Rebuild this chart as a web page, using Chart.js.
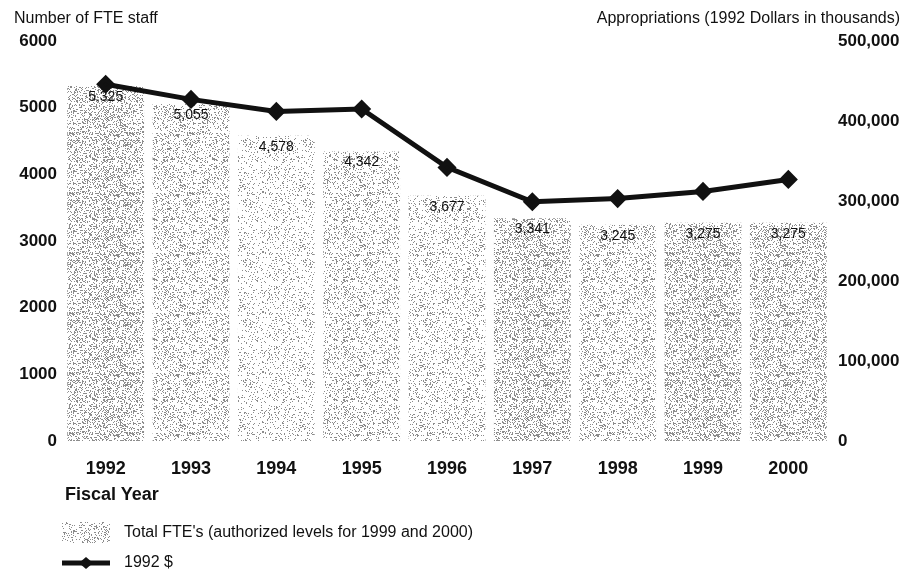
<!DOCTYPE html>
<html lang="en">
<head>
    <meta charset="UTF-8">
    <title>FTE staff and appropriations, 1992-2000</title>
    <script src="https://cdn.jsdelivr.net/npm/chart.js@4.4.1/dist/chart.umd.min.js"></script>
    <style>
        html, body { margin: 0; padding: 0; background: #fff; }
        #wrap { position: relative; width: 915px; height: 571px; }
        .ttl { position: absolute; top: 9px; font-family: "Liberation Sans", Arial, sans-serif; font-size: 16px; color: #111; white-space: nowrap; }
        #xtitle { position: absolute; left: 65px; top: 484px; font-family: "Liberation Sans", Arial, sans-serif; font-size: 18px; font-weight: bold; color: #111; }
        canvas { position: absolute; left: 0; top: 0; }
    </style>
</head>
<body>
<div id="wrap">
    <canvas id="chart" width="915" height="571"></canvas>
    <div class="ttl" style="left:14px;">Number of FTE staff</div>
    <div class="ttl" style="right:15px;">Appropriations (1992 Dollars in thousands)</div>
    <div id="xtitle">Fiscal Year</div>
</div>

<script>
    // data
    const years = ['1992', '1993', '1994', '1995', '1996', '1997', '1998', '1999', '2000'];
    const fteValues = [5325, 5055, 4578, 4342, 3677, 3341, 3245, 3275, 3275];
    const appropriations = [446000, 427000, 412000, 415000, 342000, 299000, 303000, 312000, 327000];
    const fteTicks = [0, 1000, 2000, 3000, 4000, 5000, 6000];
    const dollarTicks = [0, 100000, 200000, 300000, 400000, 500000];

    const FONT = '"Liberation Sans", Arial, sans-serif';
    const ctx = document.getElementById('chart').getContext('2d');

    // stippled fill like the photocopied bars
    function stipple(density) {
        const c = document.createElement('canvas');
        c.width = 60; c.height = 60;
        const g = c.getContext('2d');
        g.fillStyle = '#fff';
        g.fillRect(0, 0, 60, 60);
        g.fillStyle = '#8c8c8c';
        for (let y = 0; y < 60; y++) {
            for (let x = 0; x < 60; x++) {
                const h = Math.sin(x * 12.9898 + y * 78.233) * 43758.5453;
                if (h - Math.floor(h) < density) g.fillRect(x, y, 1, 1);
            }
        }
        return ctx.createPattern(c, 'repeat');
    }
    const barDensity = [0.3, 0.22, 0.13, 0.2, 0.17, 0.3, 0.21, 0.32, 0.28];
    const barFills = barDensity.map(stipple);
    const legendFill = stipple(0.22);

    const barLabels = {
        id: 'barLabels',
        afterDatasetDraw(chart, args) {
            if (args.index !== 0) return;
            const c = chart.ctx;
            c.save();
            c.font = '14px ' + FONT;
            c.fillStyle = '#111';
            c.textAlign = 'center';
            c.textBaseline = 'middle';
            args.meta.data.forEach((bar, i) => {
                c.fillText(fteValues[i].toLocaleString('en-US'), bar.x, bar.y + 11);
            });
            c.restore();
        }
    };

    const bottomLegend = {
        id: 'bottomLegend',
        afterDraw(chart) {
            const c = chart.ctx;
            const ds = chart.data.datasets;
            c.save();
            c.fillStyle = legendFill;
            c.fillRect(62, 522, 48, 21);
            c.strokeStyle = '#111';
            c.lineWidth = 5;
            c.beginPath();
            c.moveTo(62, 563);
            c.lineTo(110, 563);
            c.stroke();
            c.fillStyle = '#111';
            c.beginPath();
            c.moveTo(86, 557); c.lineTo(93, 563); c.lineTo(86, 569); c.lineTo(79, 563);
            c.closePath();
            c.fill();
            c.font = '16px ' + FONT;
            c.textBaseline = 'middle';
            c.fillText(ds[0].label, 124, 533);
            c.fillText(ds[1].label, 124, 563);
            c.restore();
        }
    };

    new Chart(ctx, {
        data: {
            labels: years,
            datasets: [{
                type: 'bar',
                label: "Total FTE's (authorized levels for 1999 and 2000)",
                data: fteValues,
                yAxisID: 'y',
                backgroundColor: barFills,
                borderWidth: 0,
                barPercentage: 0.9,
                categoryPercentage: 1.0,
                order: 1
            }, {
                type: 'line',
                label: '1992 $',
                data: appropriations,
                yAxisID: 'y1',
                borderColor: '#111',
                borderWidth: 5,
                backgroundColor: '#111',
                pointStyle: 'rectRot',
                pointRadius: 6,
                pointHoverRadius: 6,
                tension: 0,
                order: 0
            }]
        },
        options: {
            responsive: false,
            animation: false,
            devicePixelRatio: 1,
            layout: { padding: { top: 41, left: 0, right: 0, bottom: 0 } },
            plugins: {
                legend: { display: false },
                tooltip: { enabled: false }
            },
            scales: {
                x: {
                    grid: { display: false, drawTicks: false },
                    border: { display: false },
                    ticks: { font: { family: FONT, size: 18, weight: 'bold' }, color: '#111', padding: 17 },
                    afterFit: s => { s.height = 130; }
                },
                y: {
                    position: 'left',
                    min: 0, max: 6000,
                    grid: { display: false, drawTicks: false },
                    border: { display: false },
                    afterBuildTicks: s => { s.ticks = fteTicks.map(v => ({ value: v })); },
                    ticks: {
                        font: { family: FONT, size: 17, weight: 'bold' }, color: '#111', padding: 6,
                        callback: v => String(v)
                    },
                    afterFit: s => { s.width = 63; }
                },
                y1: {
                    position: 'right',
                    min: 0, max: 500000,
                    grid: { display: false, drawTicks: false },
                    border: { display: false },
                    afterBuildTicks: s => { s.ticks = dollarTicks.map(v => ({ value: v })); },
                    ticks: {
                        font: { family: FONT, size: 17, weight: 'bold' }, color: '#111', padding: 7,
                        callback: v => v.toLocaleString('en-US')
                    },
                    afterFit: s => { s.width = 84; }
                }
            }
        },
        plugins: [barLabels, bottomLegend]
    });
</script>
</body>
</html>
